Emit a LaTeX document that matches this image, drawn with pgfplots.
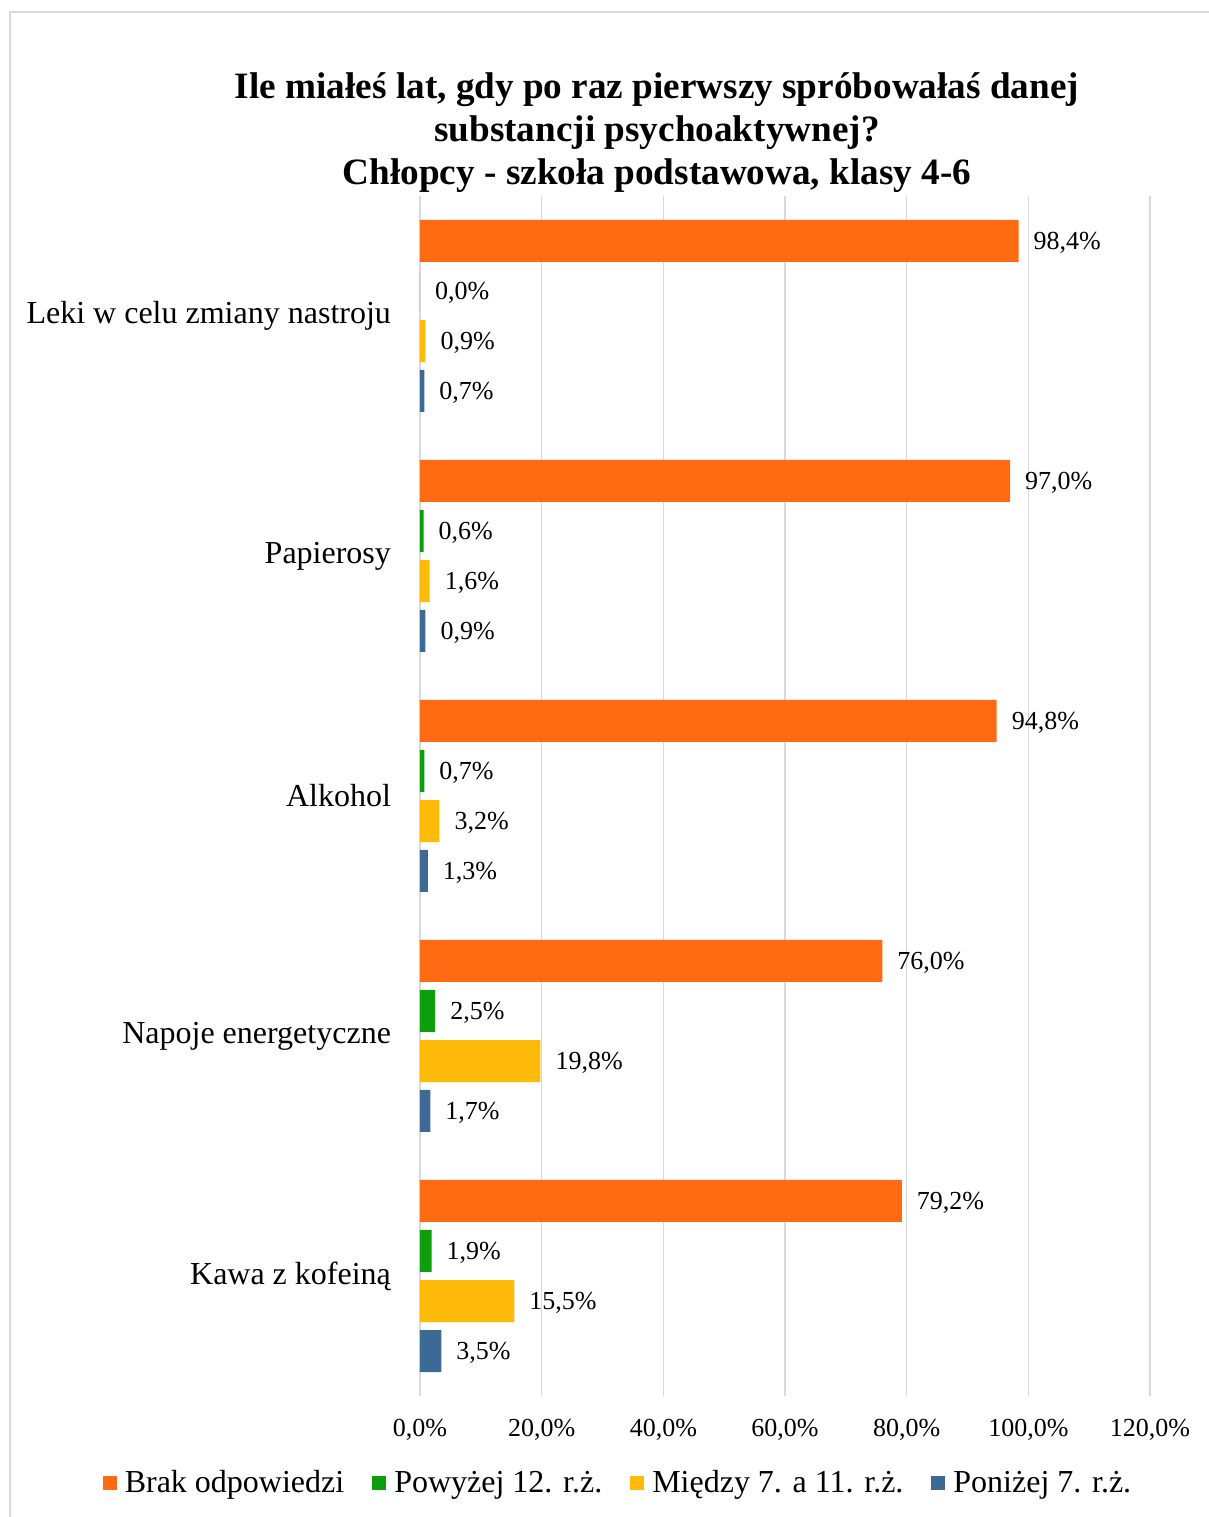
\documentclass[border=0pt]{standalone}
\usepackage{fontspec}
\setmainfont{Liberation Serif}
\usepackage{pgfplots}
\pgfplotsset{compat=1.18}
\definecolor{cO}{HTML}{FF6A12}
\definecolor{cG}{HTML}{0C9E0C}
\definecolor{cY}{HTML}{FFBA0A}
\definecolor{cB}{HTML}{3D6995}
\definecolor{gridc}{HTML}{D9D9D9}
\begin{document}
\begin{tikzpicture}
\path[use as bounding box] (0pt,0pt) rectangle (604.5pt,758.5pt);
\draw[gridc, line width=0.7pt] (5pt,0pt) -- (5pt,752.5pt) -- (604.5pt,752.5pt);
\node[font=\bfseries\fontsize{18.6}{21.5}\selectfont, align=center] at (328.5pt,692pt)
 {Ile miałeś lat, gdy po raz pierwszy spróbowałaś danej\\substancji psychoaktywnej?\\Chłopcy - szkoła podstawowa, klasy 4-6};
\begin{axis}[
 at={(210pt,60.5pt)}, anchor=south west,
 scale only axis, width=365pt, height=600pt,
 xmin=0, xmax=120, ymin=-0.5, ymax=4.5,
 xbar, bar width=0.175,
 point meta=x,
 xtick={0,20,...,120},
 xticklabel={\pgfmathprintnumber[fixed,fixed zerofill,precision=1,use comma]{\tick}\%},
 xticklabel style={font=\fontsize{13}{15}\selectfont, yshift=-8pt},
 ytick={0,1,2,3,4},
 yticklabels={Kawa z kofeiną, Napoje energetyczne, Alkohol, Papierosy, Leki w celu zmiany nastroju},
 yticklabel style={font=\fontsize{16}{18}\selectfont, xshift=-11pt},
 /pgf/number format/assume math mode=true,
 major tick length=0pt,
 axis line style={draw=none},
 xmajorgrids, grid style={gridc, line width=0.8pt},
 nodes near coords={\pgfmathprintnumber[fixed,fixed zerofill,precision=1,use comma]{\pgfplotspointmeta}\%},
 every node near coord/.append style={font=\fontsize{13}{15}\selectfont, text=black, xshift=4pt, yshift=-1pt},
 legend style={at={(0.2726,-0.0725)}, anchor=center, draw=none, font=\fontsize{16}{18}\selectfont,
   legend columns=4, /tikz/every even column/.append style={column sep=12pt},
   /tikz/every odd column/.append style={column sep=2pt}},
 legend image code/.code={\path[#1, draw=none] (0pt,-3.5pt) rectangle (7pt,3.5pt);},
 clip=false,
]
\addplot[draw=none, fill=cO, bar shift=0.3125]
 coordinates {(79.2,0) (76.0,1) (94.8,2) (97.0,3) (98.4,4)};
\addplot[draw=none, fill=cG, bar shift=0.1042]
 coordinates {(1.9,0) (2.5,1) (0.7,2) (0.6,3) (0.0,4)};
\addplot[draw=none, fill=cY, bar shift=-0.1042]
 coordinates {(15.5,0) (19.8,1) (3.2,2) (1.6,3) (0.9,4)};
\addplot[draw=none, fill=cB, bar shift=-0.3125]
 coordinates {(3.5,0) (1.7,1) (1.3,2) (0.9,3) (0.7,4)};
\legend{Brak odpowiedzi, Powyżej 12. r.ż., Między 7. a 11. r.ż., Poniżej 7. r.ż.}
\end{axis}
\end{tikzpicture}
\end{document}
